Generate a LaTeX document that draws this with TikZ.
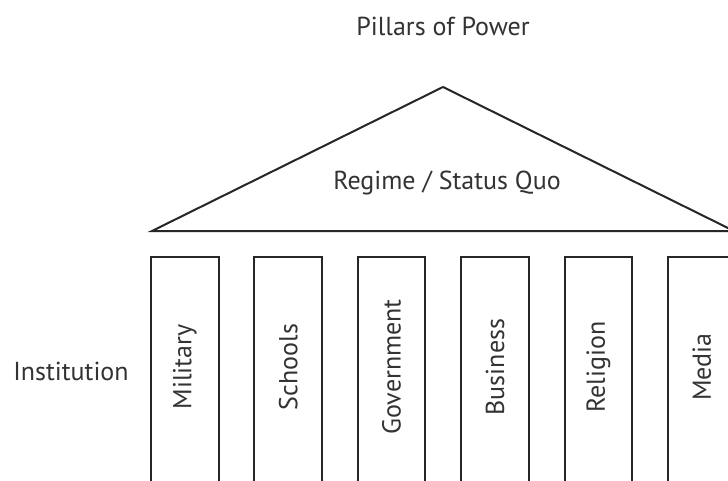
\documentclass[tikz,border=0pt]{standalone}
\usepackage{fontspec}
\setmainfont{PT Sans}
\begin{document}
\begin{tikzpicture}[x=1pt,y=-1pt,
  edge/.style={draw=black!85,line width=2pt,line join=miter},
  lbl/.style={font=\fontsize{26}{30}\selectfont,text=black!80,inner sep=0pt},
  plbl/.style={lbl,rotate=90}]
\useasboundingbox (0,0) rectangle (728,481);
\clip (0,0) rectangle (728,481);
\fill[white] (0,0) rectangle (728,481);
% roof
\coordinate (rl) at (152,231);
\coordinate (rt) at (443,87);
\coordinate (rr) at (734,231);
\draw[edge] (rl) -- (rt) -- (rr) -- cycle;
\node[lbl] (title) at (443,26) {Pillars of Power};
\node[lbl] (regime) at (447,183) {Regime / Status Quo};
\node[lbl] (inst) at (71,371) {Institution};
% pillars
\foreach \i/\t in {0/Military,1/Schools,2/Government,3/Business,4/Religion,5/Media}{
  \pgfmathsetmacro{\xl}{151+103.4*\i}
  \pgfmathsetmacro{\xr}{\xl+67.5}
  \pgfmathsetmacro{\xc}{\xl+33.75}
  \draw[edge] (\xl,495) -- (\xl,257) -- (\xr,257) -- (\xr,495);
  \node[plbl] (p\i) at (\xc,367) {\t};
}
\end{tikzpicture}
\end{document}
